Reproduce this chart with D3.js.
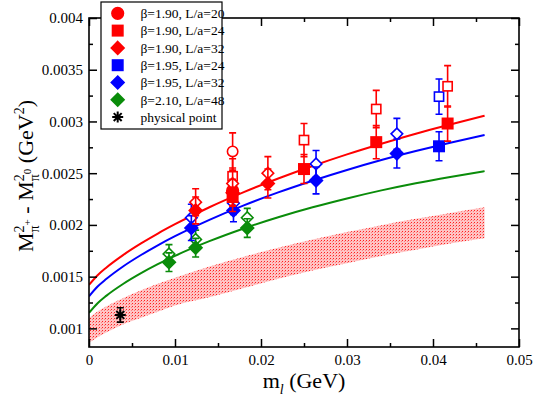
<!DOCTYPE html>
<html><head><meta charset="utf-8">
<script src="https://cdn.jsdelivr.net/npm/d3@7"></script>
<style>html,body{margin:0;padding:0;background:#fff;}svg{display:block;}</style>
</head><body>
<svg id="c" width="534" height="398"></svg>
<script>
// ---- data ----
const xTicks = [0, 0.01, 0.02, 0.03, 0.04, 0.05];
const xTickLabels = ["0", "0.01", "0.02", "0.03", "0.04", "0.05"];
const xMinor = [0.005, 0.015, 0.025, 0.035, 0.045];
const yTicks = [0.001, 0.0015, 0.002, 0.0025, 0.003, 0.0035, 0.004];
const yTickLabels = ["0.001", "0.0015", "0.002", "0.0025", "0.003", "0.0035", "0.004"];
const yMinor = [0.00125, 0.00175, 0.00225, 0.00275, 0.00325, 0.00375];

const seriesNames = ["β=1.90, L/a=20", "β=1.90, L/a=24", "β=1.90, L/a=32", "β=1.95, L/a=24", "β=1.95, L/a=32", "β=2.10, L/a=48", "physical point"];
const seriesColors = ["#ff0000", "#ff0000", "#ff0000", "#0000ff", "#0000ff", "#0a8c0a", "#000000"];
const seriesShapes = ["circle", "square", "diamond", "square", "diamond", "diamond", "star"];

// fit curves (sampled)
const curveX   = [0, 0.001, 0.002, 0.004, 0.006, 0.008, 0.010, 0.014, 0.018, 0.022, 0.026, 0.030, 0.034, 0.038, 0.042, 0.046];
const fitRed   = [0.00142, 0.001514, 0.001587, 0.001711, 0.001819, 0.001917, 0.002007, 0.002171, 0.002317, 0.002449, 0.00257, 0.002682, 0.002785, 0.002882, 0.00297, 0.003055];
const fitBlue  = [0.00131, 0.001405, 0.001477, 0.001601, 0.001707, 0.001803, 0.001891, 0.002049, 0.002189, 0.002314, 0.002427, 0.002531, 0.002627, 0.002714, 0.002795, 0.00287];
const fitGreen = [0.00115, 0.001243, 0.001314, 0.001431, 0.001531, 0.00162, 0.001701, 0.001843, 0.001966, 0.002074, 0.00217, 0.002256, 0.002334, 0.002403, 0.002464, 0.00252];
const bandHigh = [0.0011, 0.001163, 0.001211, 0.001294, 0.001366, 0.001431, 0.00149, 0.001598, 0.001693, 0.00178, 0.001858, 0.001931, 0.001998, 0.002059, 0.002116, 0.00217];
const bandLow  = [0.00086, 0.000915, 0.00096, 0.00104, 0.0011, 0.00116, 0.00122, 0.0013, 0.00139, 0.00148, 0.00156, 0.00163, 0.0017, 0.00176, 0.00182, 0.00187];

// data points (drawing order: green, blue, red, physical)
const ptSeries = [5, 5, 5, 5, 5, 5, 4, 4, 4, 4, 4, 4, 4, 4, 3, 3, 0, 0, 1, 1, 2, 2, 2, 2, 2, 2, 1, 1, 1, 1, 1, 1, 6];
const ptX      = [0.0093, 0.0093, 0.0124, 0.0124, 0.0184, 0.0184, 0.0119, 0.0119, 0.0168, 0.0168, 0.0264, 0.0264, 0.0358, 0.0358, 0.0407, 0.0407, 0.0167, 0.0167, 0.0167, 0.0167, 0.0167, 0.0167, 0.0124, 0.0124, 0.0208, 0.0208, 0.0250, 0.0250, 0.0334, 0.0334, 0.0417, 0.0417, 0.00364];
const ptY      = [0.00172, 0.00164, 0.00186, 0.00178, 0.00207, 0.00197, 0.00207, 0.00197, 0.00221, 0.00214, 0.00259, 0.00243, 0.00288, 0.00269, 0.00324, 0.00276, 0.00271, 0.00233, 0.00247, 0.00227, 0.00240, 0.00231, 0.00222, 0.00214, 0.00250, 0.00240, 0.00282, 0.00254, 0.00312, 0.00280, 0.00334, 0.00298, 0.00113];
const ptErr    = [0.00009, 0.00009, 0.00009, 0.00009, 0.00009, 0.00009, 0.00013, 0.00012, 0.00011, 0.00011, 0.00013, 0.00013, 0.00015, 0.00014, 0.00017, 0.00014, 0.00018, 0.00014, 0.00017, 0.00014, 0.00015, 0.00013, 0.00013, 0.00013, 0.00016, 0.00014, 0.00016, 0.00014, 0.00018, 0.00016, 0.00020, 0.00017, 0.00007];
const ptOpen   = [1, 0, 1, 0, 1, 0, 1, 0, 1, 0, 1, 0, 1, 0, 1, 0, 1, 0, 1, 0, 1, 0, 1, 0, 1, 0, 1, 0, 1, 0, 1, 0, 0];

// ---- drawing ----
const svg = d3.select("#c");
const x = d3.scaleLinear().domain([0, 0.05]).range([89, 519]);
const y = d3.scaleLinear().domain([0.00082, 0.004]).range([347, 18]);
const serif = "'Liberation Serif','Times New Roman',serif";

const defs = svg.append("defs");
const pat = defs.append("pattern").attr("id", "hatch").attr("patternUnits", "userSpaceOnUse")
  .attr("width", 3).attr("height", 3);
pat.append("rect").attr("width", 3).attr("height", 3).attr("fill", "#ffc4c4");
pat.append("rect").attr("width", 1).attr("height", 1).attr("fill", "#ff2020");
pat.append("rect").attr("x", 2).attr("y", 1).attr("width", 1).attr("height", 1).attr("fill", "#ff8080");
defs.append("clipPath").attr("id", "clip").append("rect")
  .attr("x", 89).attr("y", 18).attr("width", 430).attr("height", 329);

const plot = svg.append("g").attr("clip-path", "url(#clip)");

// band
const area = d3.area().x((d, i) => x(curveX[i])).y0((d, i) => y(bandLow[i])).y1((d, i) => y(bandHigh[i]))
  .curve(d3.curveMonotoneX);
plot.append("path").datum(curveX).attr("d", area).attr("fill", "url(#hatch)");

// fit lines
const line = vals => d3.line().x((d, i) => x(curveX[i])).y((d, i) => y(vals[i])).curve(d3.curveMonotoneX)(curveX);
[[fitRed, "#ff0000"], [fitBlue, "#0000ff"], [fitGreen, "#0a8c0a"]].forEach(([v, c]) => {
  plot.append("path").attr("d", line(v)).attr("fill", "none").attr("stroke", c).attr("stroke-width", 2);
});

// symbols
function drawSymbol(g, shape, cx, cy, color, open) {
  const fill = open ? "#fff" : color;
  const sw = 1.6;
  if (shape === "circle") {
    g.append("circle").attr("cx", cx).attr("cy", cy).attr("r", open ? 5.2 : 5.8)
      .attr("fill", fill).attr("stroke", color).attr("stroke-width", sw);
  } else if (shape === "square") {
    const h = open ? 4.6 : 5.2;
    g.append("rect").attr("x", cx - h).attr("y", cy - h).attr("width", 2 * h).attr("height", 2 * h)
      .attr("fill", fill).attr("stroke", color).attr("stroke-width", sw);
  } else if (shape === "diamond") {
    const h = open ? 5.8 : 6.4;
    g.append("path").attr("d", `M${cx},${cy - h}L${cx + h},${cy}L${cx},${cy + h}L${cx - h},${cy}Z`)
      .attr("fill", fill).attr("stroke", color).attr("stroke-width", sw);
  } else if (shape === "star") {
    const r = 5.5, d = r * 0.72;
    g.append("path").attr("d", `M${cx - r},${cy}L${cx + r},${cy}M${cx},${cy - r}L${cx},${cy + r}M${cx - d},${cy - d}L${cx + d},${cy + d}M${cx - d},${cy + d}L${cx + d},${cy - d}`)
      .attr("stroke", color).attr("stroke-width", 2).attr("fill", "none");
  }
}

const pts = svg.append("g");
ptX.forEach((vx, i) => {
  const s = ptSeries[i], c = seriesColors[s];
  const cx = x(vx), cy = y(ptY[i]);
  const y0 = y(ptY[i] - ptErr[i]), y1 = y(ptY[i] + ptErr[i]);
  const g = pts.append("g");
  g.append("path").attr("d", `M${cx},${y0}L${cx},${y1}M${cx - 3.5},${y0}L${cx + 3.5},${y0}M${cx - 3.5},${y1}L${cx + 3.5},${y1}`)
    .attr("stroke", c).attr("stroke-width", 1.6).attr("fill", "none");
  drawSymbol(g, seriesShapes[s], cx, cy, c, ptOpen[i] === 1);
});

// axes (ticks inward)
const fmtX = d => xTickLabels[xTicks.indexOf(d)];
const fmtY = d => yTickLabels[yTicks.indexOf(d)];
svg.append("g").attr("transform", "translate(0,347)")
  .call(d3.axisBottom(x).tickValues(xTicks).tickFormat(fmtX).tickSizeInner(-8).tickSizeOuter(0).tickPadding(7));
svg.append("g").attr("transform", "translate(0,347)")
  .call(d3.axisBottom(x).tickValues(xMinor).tickFormat("").tickSizeInner(-4).tickSizeOuter(0));
svg.append("g").attr("transform", "translate(0,18)")
  .call(d3.axisTop(x).tickValues(xTicks).tickFormat("").tickSizeInner(-8).tickSizeOuter(0));
svg.append("g").attr("transform", "translate(0,18)")
  .call(d3.axisTop(x).tickValues(xMinor).tickFormat("").tickSizeInner(-4).tickSizeOuter(0));
svg.append("g").attr("transform", "translate(89,0)")
  .call(d3.axisLeft(y).tickValues(yTicks).tickFormat(fmtY).tickSizeInner(-8).tickSizeOuter(0).tickPadding(6));
svg.append("g").attr("transform", "translate(89,0)")
  .call(d3.axisLeft(y).tickValues(yMinor).tickFormat("").tickSizeInner(-4).tickSizeOuter(0));
svg.append("g").attr("transform", "translate(519,0)")
  .call(d3.axisRight(y).tickValues(yTicks).tickFormat("").tickSizeInner(-8).tickSizeOuter(0));
svg.append("g").attr("transform", "translate(519,0)")
  .call(d3.axisRight(y).tickValues(yMinor).tickFormat("").tickSizeInner(-4).tickSizeOuter(0));
svg.selectAll(".domain").remove();
svg.selectAll(".tick line").attr("stroke", "#000").attr("stroke-width", 1.5);
svg.selectAll(".tick text").attr("font-family", serif).attr("font-size", 15).attr("fill", "#000");

// frame
svg.append("rect").attr("x", 89).attr("y", 18).attr("width", 430).attr("height", 329)
  .attr("fill", "none").attr("stroke", "#000").attr("stroke-width", 1.6);

// axis titles
const xt = svg.append("text").attr("x", 304).attr("y", 388).attr("text-anchor", "middle")
  .attr("font-family", serif).attr("font-size", 22).attr("fill", "#000");
xt.append("tspan").text("m");
xt.append("tspan").attr("font-size", 14).attr("font-style", "italic").attr("dy", 6).text("l");
xt.append("tspan").attr("dy", -6).text(" (GeV)");

const yt = svg.append("text").attr("transform", "translate(33,176) rotate(-90)").attr("text-anchor", "middle")
  .attr("font-family", serif).attr("font-size", 22).attr("fill", "#000");
yt.append("tspan").text("M");
yt.append("tspan").attr("font-size", 14).attr("dy", -9).text("2");
yt.append("tspan").attr("font-size", 14).attr("dy", 15).attr("dx", -7).text("π");
yt.append("tspan").attr("font-size", 11).attr("dy", -8).text("+");
yt.append("tspan").attr("dy", 2).text(" - M");
yt.append("tspan").attr("font-size", 14).attr("dy", -9).text("2");
yt.append("tspan").attr("font-size", 14).attr("dy", 15).attr("dx", -7).text("π");
yt.append("tspan").attr("font-size", 11).attr("dy", -8).text("0");
yt.append("tspan").attr("dy", 2).text(" (GeV");
yt.append("tspan").attr("font-size", 14).attr("dy", -9).text("2");
yt.append("tspan").attr("dy", 9).text(")");

// legend
const lg = svg.append("g");
lg.append("rect").attr("x", 101).attr("y", 2).attr("width", 121).attr("height", 127)
  .attr("fill", "#fff").attr("stroke", "#000").attr("stroke-width", 1.2);
seriesNames.forEach((name, i) => {
  const cy = 13.3 + i * 17.3;
  drawSymbol(lg, seriesShapes[i], 117.7, cy, seriesColors[i], false);
  lg.append("text").attr("x", 140.5).attr("y", cy + 4.8).attr("font-family", serif).attr("font-size", 13.5)
    .attr("fill", "#000").text(name);
});
</script>
</body></html>
